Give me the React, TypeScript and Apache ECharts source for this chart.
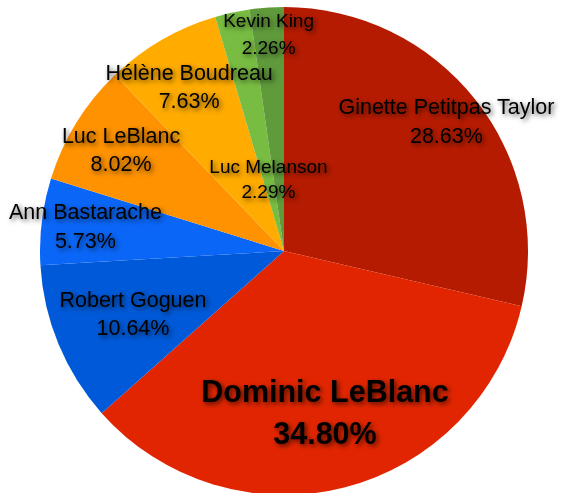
import React, { useEffect, useRef } from "react";
import * as echarts from "echarts";

const names = [
  "Ginette Petitpas Taylor",
  "Dominic LeBlanc",
  "Robert Goguen",
  "Ann Bastarache",
  "Luc LeBlanc",
  "Hélène Boudreau",
  "Luc Melanson",
  "Kevin King",
];
const values = [28.63, 34.8, 10.64, 5.73, 8.02, 7.63, 2.29, 2.26];
const colors = ["#b51b00", "#e12500", "#0059d8", "#0a66f7", "#ff9200", "#ffab00", "#78bc42", "#5f9a3b"];
// radial position of each label, as a fraction of the radius
const labelFrac = [0.85, 0.68, 0.67, 0.82, 0.785, 0.775, 0.3, 0.89];
const fontSizes = [21.5, 30.5, 21.5, 21.5, 21.5, 21.5, 19, 19];
const lineHeights = [29, 42, 28, 29, 28, 28, 25, 27];
const bold = [false, true, false, false, false, false, false, false];

const R = 244;
const CX = 284;
const CY = 251;
const FONT = "'Liberation Sans', Arial, Helvetica, sans-serif";

export default function App() {
  const ref = useRef<HTMLDivElement>(null);
  useEffect(() => {
    if (!ref.current) return;
    const chart = echarts.init(ref.current, null, { renderer: "svg" });
    const total = values.reduce((a, b) => a + b, 0);
    let cum = 0;
    const mids: number[] = [];
    const data = values.map((v, i) => {
      mids.push(((cum + v / 2) / total) * Math.PI * 2);
      cum += v;
      return {
        name: names[i],
        value: v,
        itemStyle: { color: colors[i] },
        label: {
          fontSize: fontSizes[i],
          lineHeight: lineHeights[i],
          fontWeight: bold[i] ? "bold" : "normal",
        },
      };
    });
    chart.setOption({
      animation: false,
      series: [
        {
          type: "pie",
          center: [CX, CY],
          radius: [0, R],
          startAngle: 90,
          clockwise: true,
          minShowLabelAngle: 0,
          avoidLabelOverlap: false,
          data,
          label: {
            show: true,
            position: "inside",
            formatter: (p: any) => `${p.name}\n${p.value.toFixed(2)}%`,
            color: "#000",
            fontFamily: FONT,
            textShadowColor: "rgba(0,0,0,0.65)",
            textShadowBlur: 5,
            textShadowOffsetX: 2,
            textShadowOffsetY: 2,
          },
          labelLayout: (params: any) => {
            const i = params.dataIndex;
            const d = labelFrac[i] * R;
            return {
              x: CX + d * Math.sin(mids[i]),
              y: CY - d * Math.cos(mids[i]),
              align: "center",
              verticalAlign: "middle",
              hideOverlap: false,
            };
          },
          labelLine: { show: false },
          emphasis: { disabled: true },
        },
      ],
    });
    return () => chart.dispose();
  }, []);
  return (
    <div
      ref={ref}
      style={{ position: "fixed", left: 0, top: 0, width: 563, height: 493, background: "#fff" }}
    />
  );
}
